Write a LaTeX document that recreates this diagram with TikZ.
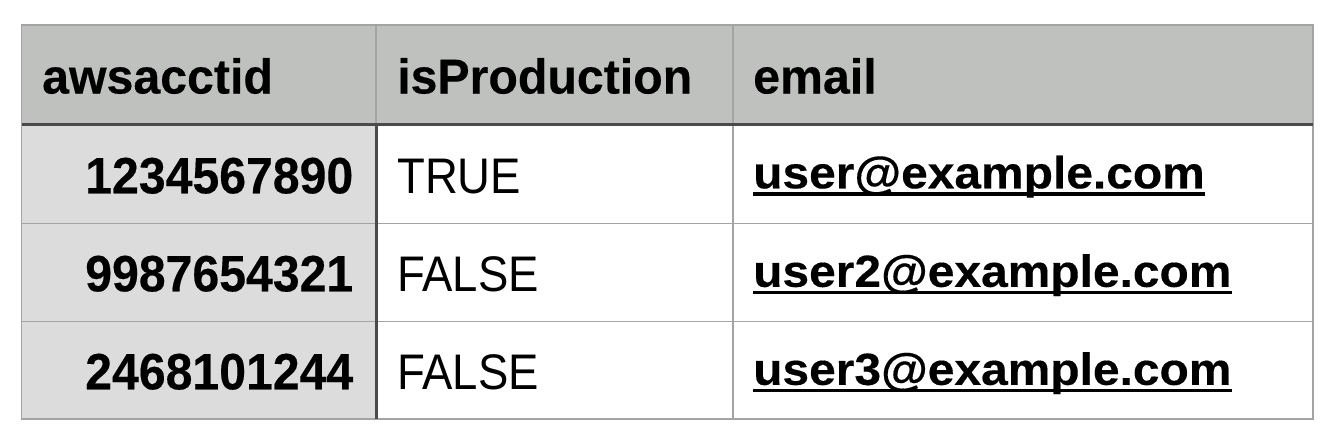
\documentclass[tikz,border=0pt]{standalone}
\usepackage{fontspec}
\setmainfont{Liberation Sans}
\newfontfamily\hdrfont[FakeStretch=0.985,BoldFeatures={FakeBold=0.3}]{Liberation Sans}
\newfontfamily\numfont[FakeStretch=0.945,BoldFeatures={FakeBold=0.3}]{Liberation Sans}
\newfontfamily\regfont[FakeStretch=0.91]{Liberation Sans}
\newfontfamily\mailfont[FakeStretch=1.065,BoldFeatures={FakeBold=0.3}]{Liberation Sans}
\definecolor{hdrgray}{HTML}{BFC1BF}
\definecolor{colgray}{HTML}{DCDCDC}
\definecolor{gridgray}{HTML}{A4A4A4}
\definecolor{darkline}{HTML}{4A4A4A}
\tikzset{
  hdr/.style={anchor=base west,inner sep=0pt,font=\hdrfont\bfseries\fontsize{49}{49}\selectfont},
  num/.style={anchor=base east,inner sep=0pt,font=\numfont\bfseries\fontsize{51}{51}\selectfont},
  reg/.style={anchor=base west,inner sep=0pt,font=\regfont\fontsize{50}{50}\selectfont},
  mail/.style={anchor=base west,inner sep=0pt,font=\mailfont\bfseries\fontsize{45}{45}\selectfont},
  grid/.style={draw=gridgray,line width=1.2pt},
  heavy/.style={draw=darkline,line width=3pt},
  uline/.style={draw=black,line width=3.5pt}
}
\begin{document}
\begin{tikzpicture}[x=1pt,y=-1pt]
\useasboundingbox (0,0) rectangle (1334,442);
% fills
\fill[hdrgray] (21.5,25) rectangle (1313,124);
\fill[colgray] (21.5,124) rectangle (376,419);
% grid
\draw[grid] (21.5,25) rectangle (1313,419);
\draw[grid] (376,25) -- (376,124);
\draw[grid] (733,25) -- (733,419);
\draw[grid] (21.5,223.3) -- (1313,223.3);
\draw[grid] (21.5,321.3) -- (1313,321.3);
% heavy lines
\draw[heavy] (21.5,124) -- (1313,124);
\draw[heavy] (376,124) -- (376,419);
% header
\node[hdr] (h1) at (42,93.5) {awsacctid};
\node[hdr] (h2) at (397,93.5) {isProduction};
\node[hdr] (h3) at (753,93.5) {email};
% column 1
\node[num] (n1) at (353.5,193.3) {1234567890};
\node[num] (n2) at (353.5,291.3) {9987654321};
\node[num] (n3) at (353.5,389.3) {2468101244};
% column 2
\node[reg] (p1) at (397,193.3) {TRUE};
\node[reg] (p2) at (397,291.3) {FALSE};
\node[reg] (p3) at (397,389.3) {FALSE};
% column 3
\node[mail] (e1) at (753,188.3) {user@example.com};
\node[mail] (e2) at (753,286.8) {user2@example.com};
\node[mail] (e3) at (753,384.8) {user3@example.com};
\foreach \e in {e1,e2,e3}{
  \draw[uline] ([yshift=-5.5pt]\e.base west) -- ([yshift=-5.5pt]\e.base east);
}
\end{tikzpicture}
\end{document}
